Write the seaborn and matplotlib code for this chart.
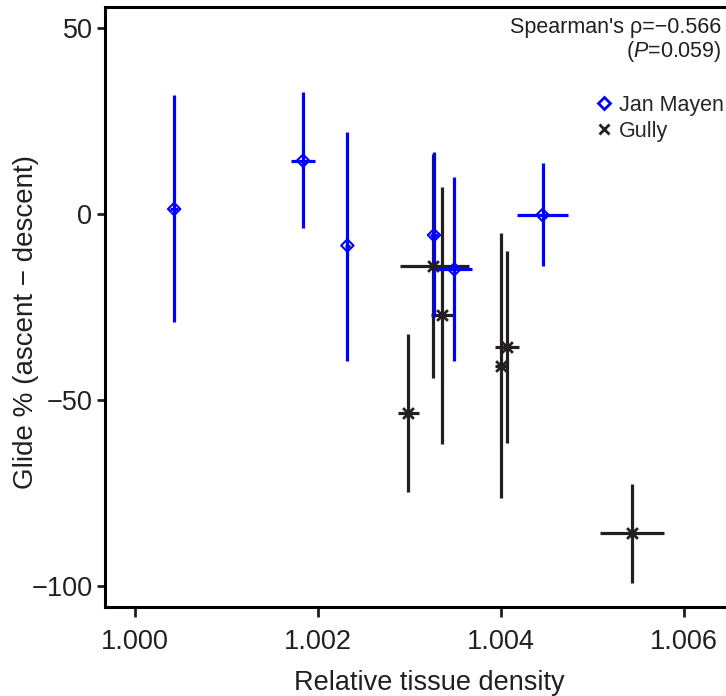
import matplotlib
matplotlib.use('Agg')
import matplotlib.pyplot as plt
import numpy as np
import pandas as pd
import seaborn as sns
from matplotlib.lines import Line2D

# Jan Mayen: density, glide %, error bar ends
jm_x = [1.000426, 1.001835, 1.002319, 1.003266, 1.003488, 1.004452]
jm_y = [1.3, 14.3, -8.5, -5.7, -14.9, -0.3]
jm_y_low = [-29.0, -3.9, -39.6, -27.6, -39.6, -13.9]
jm_y_high = [31.9, 32.7, 22.1, 16.5, 9.8, 13.6]
jm_x_low = [1.000380, 1.001708, 1.002290, 1.003220, 1.003287, 1.004174]
jm_x_high = [1.000470, 1.001966, 1.002350, 1.003310, 1.003681, 1.004732]

# Gully
gu_x = [1.003257, 1.003357, 1.002978, 1.003999, 1.004064, 1.005430]
gu_y = [-13.9, -27.3, -53.6, -40.8, -35.7, -85.8]
gu_y_low = [-44.0, -61.8, -74.7, -76.4, -61.5, -99.1]
gu_y_high = [16.2, 7.3, -32.4, -5.0, -9.9, -72.7]
gu_x_low = [1.002895, 1.003235, 1.002873, 1.003930, 1.003933, 1.005085]
gu_x_high = [1.003645, 1.003489, 1.003100, 1.004070, 1.004196, 1.005775]

x_ticks = [1.000, 1.002, 1.004, 1.006]
y_ticks = [-100, -50, 0, 50]

blue = '#0000FF'
dark = '#231F20'

sns.set_style('white')
plt.rcParams['font.family'] = ['Liberation Sans', 'DejaVu Sans']
plt.rcParams['mathtext.fontset'] = 'custom'
plt.rcParams['mathtext.rm'] = 'Liberation Sans'
plt.rcParams['mathtext.it'] = 'Liberation Sans:italic'

data = pd.DataFrame({
    'x': jm_x + gu_x,
    'y': jm_y + gu_y,
    'site': ['Jan Mayen'] * len(jm_x) + ['Gully'] * len(gu_x),
})

fig = plt.figure(figsize=(7.26, 6.96), dpi=100)
# the box runs off the right edge of the picture
ax = fig.add_axes([0.1446, 0.128, 0.8948, 0.862])

# error bars first, markers on top
for xs, ys, ylo, yhi, xlo, xhi, color in (
        (gu_x, gu_y, gu_y_low, gu_y_high, gu_x_low, gu_x_high, dark),
        (jm_x, jm_y, jm_y_low, jm_y_high, jm_x_low, jm_x_high, blue)):
    xs = np.array(xs)
    ys = np.array(ys)
    ax.errorbar(
        x=xs, y=ys,
        yerr=[ys - np.array(ylo), np.array(yhi) - ys],
        xerr=[xs - np.array(xlo), np.array(xhi) - xs],
        fmt='none', ecolor=color, elinewidth=2.3, capsize=0, zorder=2
    )

sns.scatterplot(
    data=data[data['site'] == 'Jan Mayen'], x='x', y='y',
    marker='D', s=40, facecolor='none', edgecolor=blue, linewidth=1.5,
    ax=ax, zorder=3, legend=False
)
sns.scatterplot(
    data=data[data['site'] == 'Gully'], x='x', y='y',
    marker='x', s=60, color=dark, linewidth=2.0,
    ax=ax, zorder=3, legend=False
)

ax.set_xlim(0.99967, 1.00677)
ax.set_ylim(-105.6, 55.6)
ax.set_xticks(x_ticks)
ax.set_xticklabels([f'{t:.3f}' for t in x_ticks])
ax.set_yticks(y_ticks)
ax.tick_params(direction='out', length=6, width=2, labelsize=19.5,
               colors='#231F20', pad=3, left=True, bottom=True)
ax.tick_params(axis='x', length=7, pad=8.6)
ax.set_xlabel('Relative tissue density', fontsize=19.5, color='#231F20', labelpad=11)
ax.set_ylabel('Glide % (ascent \u2212 descent)', fontsize=20, color='#231F20',
              va='center')
ax.yaxis.set_label_coords(-0.1214, 0.475)
for s in ax.spines.values():
    s.set_linewidth(2.2)
    s.set_color('black')

handles = [
    Line2D([], [], marker='D', linestyle='none', markerfacecolor='none',
           markeredgecolor=blue, markeredgewidth=2, markersize=6.5),
    Line2D([], [], marker='x', linestyle='none', color=dark,
           markeredgewidth=2, markersize=6.5),
]
fig.legend(handles, ['Jan Mayen', 'Gully'], loc='upper left',
           bbox_to_anchor=(0.820, 0.8638), frameon=False, fontsize=15.5,
           handletextpad=0.3, handlelength=0.8, labelspacing=0.24,
           borderaxespad=0, borderpad=0)

fig.text(0.994, 0.9598, "Spearman's \u03c1=\u22120.566", ha='right', va='center',
         fontsize=15.5, color='#231F20')
fig.text(0.994, 0.9267, "($\\mathit{P}$=0.059)", ha='right', va='center',
         fontsize=15.5, color='#231F20')

fig.savefig('out.png', dpi=100)
